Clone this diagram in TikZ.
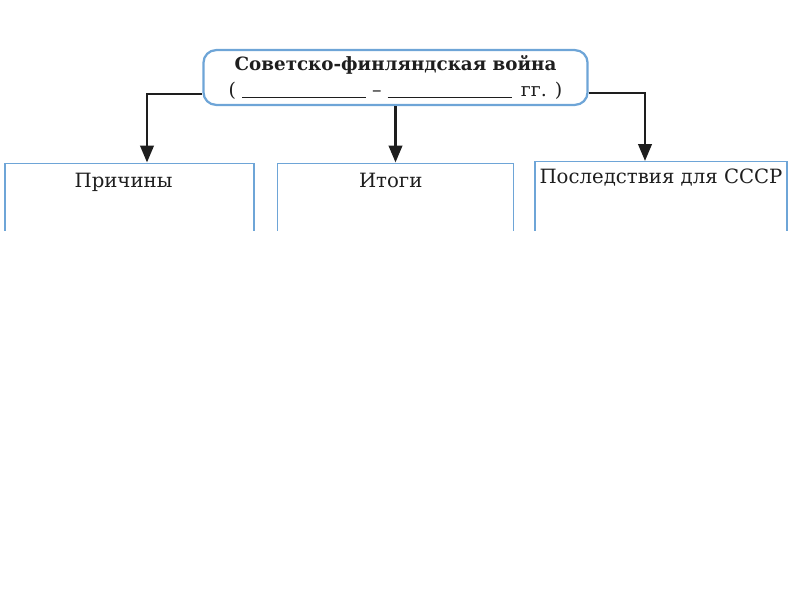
\documentclass[tikz,border=0pt]{standalone}
\usepackage{fontspec}
\setmainfont{DejaVu Serif}
\usepackage{tikz}
\usetikzlibrary{arrows.meta, positioning, calc}
\definecolor{myblue}{RGB}{110,165,215}
\definecolor{mydark}{RGB}{30,30,30}
\tikzset{
  headbox/.style={rectangle, draw=myblue, line width=1.6pt, rounded corners=9pt,
    minimum width=9.6cm, minimum height=1.37cm, align=center, inner sep=0pt,
    text=mydark},
  fieldbox/.style={rectangle, draw=myblue, line width=1pt, anchor=north,
    minimum height=4cm, inner sep=0pt},
  fieldlabel/.style={font=\fontsize{14}{17}\selectfont, text=mydark, inner sep=0pt},
  arrow/.style={-{Triangle[length=12pt, width=9.5pt]}, line width=1.9pt, color=mydark}
}

\begin{document}
\begin{tikzpicture}[x=0.025cm, y=-0.025cm]
  \useasboundingbox (0,0) rectangle (800,600);

  % Title box
  \node[headbox] (title) at (395.5,77.5)
    {{\fontsize{13}{17}\selectfont\bfseries Советско-финляндская война}\\[5pt]
     {\fontsize{13.5}{17}\selectfont ( \rule[-1pt]{3.1cm}{0.7pt} -- \rule[-1pt]{3.1cm}{0.7pt} \,гг. )}};

  % Lower boxes (cut off at the bottom)
  \begin{scope}
    \clip (0,0) rectangle (800,230);
    \node[fieldbox, minimum width=6.22cm] (cause) at (129.5,162.5) {};
    \node[fieldbox, minimum width=5.9cm] (result) at (395.5,162.5) {};
    \node[fieldbox, minimum width=6.3cm] (effect) at (661,161) {};
  \end{scope}

  % Box labels
  \node[fieldlabel, below=0.25cm of cause.north, xshift=-0.15cm] (causetxt) {Причины};
  \node[fieldlabel, below=0.25cm of result.north, xshift=-0.12cm] (resulttxt) {Итоги};
  \node[fieldlabel, below=0.2cm of effect.north] (effecttxt) {Последствия для СССР};

  % Arrows
  \draw[arrow] ($(title.west)+(0,16.5)$) -| ($(cause.north)+(17.5,0)$);
  \draw[arrow] (title.south) -- (result.north);
  \draw[arrow] ($(title.east)+(0,15.5)$) -| ($(effect.north)+(-16,0)$);
\end{tikzpicture}
\end{document}
